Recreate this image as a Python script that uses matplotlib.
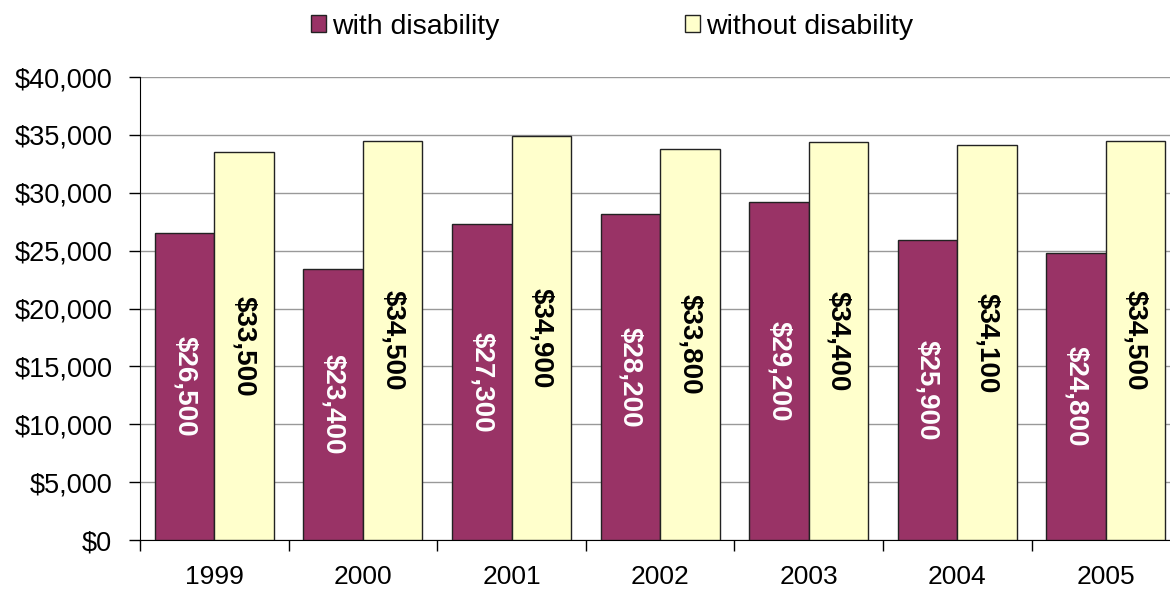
import numpy as np
import matplotlib.pyplot as plt
from matplotlib.ticker import FuncFormatter, MultipleLocator

plt.rcParams['font.family'] = ['Liberation Sans', 'DejaVu Sans']

# Дані
years = ['1999', '2000', '2001', '2002', '2003', '2004', '2005']
with_disability = [26500, 23400, 27300, 28200, 29200, 25900, 24800]
without_disability = [33500, 34500, 34900, 33800, 34400, 34100, 34500]

fig = plt.figure(figsize=(11.7, 5.92), dpi=100)
ax = fig.add_axes([0.1197, 0.0878, 0.889, 0.782])

x = np.arange(len(years))
w = 0.40
b1 = ax.bar(x - w / 2, with_disability, w, color='#993366', edgecolor='#222222', linewidth=1, zorder=3,
            label='with disability')
b2 = ax.bar(x + w / 2, without_disability, w, color='#FFFFCC', edgecolor='#222222', linewidth=1, zorder=3,
            label='without disability')

# Підписи всередині стовпців
for rect, v in zip(b1, with_disability):
    ax.text(rect.get_x() + rect.get_width() / 2, v / 2, '${:,}'.format(v), rotation=-90,
            ha='center', va='center', color='white', fontsize=20, fontweight='bold', zorder=4)
for rect, v in zip(b2, without_disability):
    ax.text(rect.get_x() + rect.get_width() / 2, v / 2, '${:,}'.format(v), rotation=-90,
            ha='center', va='center', color='black', fontsize=20, fontweight='bold', zorder=4)

ax.set_ylim(0, 40000)
ax.set_xlim(-0.5, len(years) - 0.5)
ax.yaxis.set_major_locator(MultipleLocator(5000))
ax.yaxis.set_major_formatter(FuncFormatter(lambda v, p: '${:,.0f}'.format(v)))
ax.grid(axis='y', color='#999999', linewidth=1, zorder=0)

# Поділки між категоріями, підписи по центру
ax.set_xticks(np.arange(len(years) + 1) - 0.5)
ax.set_xticklabels([])
ax.set_xticks(x, minor=True)
ax.set_xticklabels(years, minor=True)
ax.tick_params(axis='x', which='minor', length=0, pad=18, labelsize=19)
ax.tick_params(axis='x', which='major', length=8, width=1)
ax.tick_params(axis='y', length=8, width=1, labelsize=19.5, pad=12)

for s in ['top', 'right']:
    ax.spines[s].set_visible(False)
ax.spines['left'].set_color('black')
ax.spines['bottom'].set_color('black')

fig.legend(handles=[b1, b2], loc='center', bbox_to_anchor=(0.523, 0.955), ncol=2, frameon=False,
           fontsize=20.5, handlelength=0.55, handleheight=0.55, handletextpad=0.2, columnspacing=6.5)

fig.savefig('out.png', dpi=100)
